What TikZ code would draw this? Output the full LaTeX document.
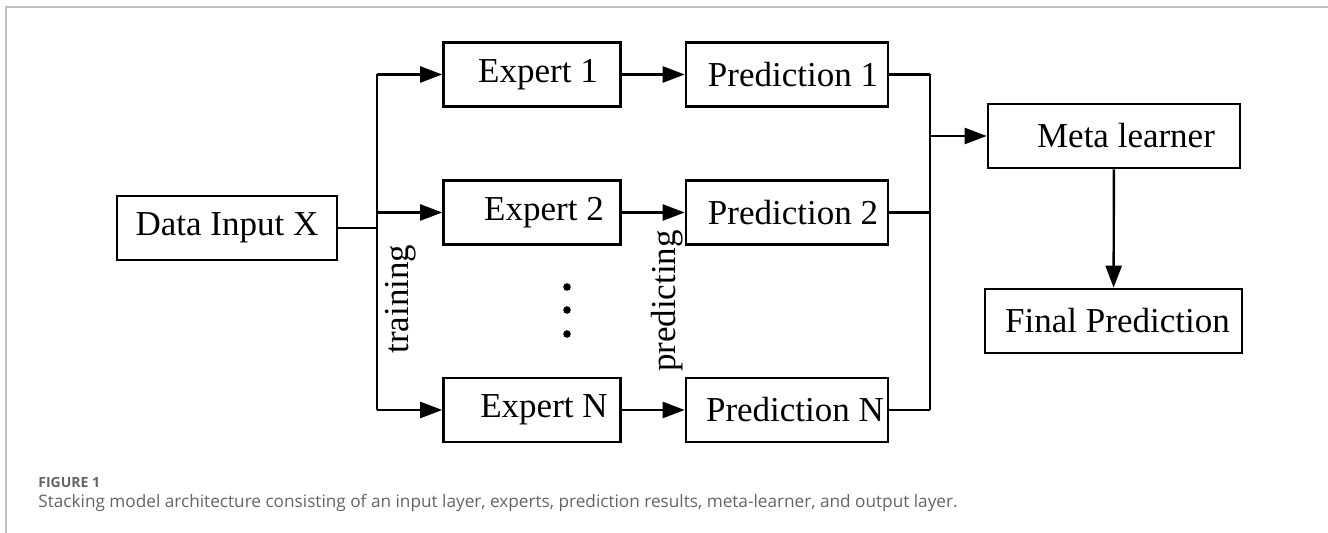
\documentclass[tikz,border=0pt]{standalone}
\usepackage{fontspec}
\setmainfont{Liberation Serif}
\newfontfamily\capfont{Open Sans}
\usetikzlibrary{arrows.meta, positioning}
\definecolor{FrameGray}{RGB}{192,192,192}
\definecolor{CapGray}{RGB}{100,100,100}

\begin{document}
\begin{tikzpicture}[x = 0.5pt, y = -0.5pt, font = \fontsize{17.5}{20}\selectfont]%
    %
    \tikzstyle{line} = [draw = black, line width = 1.2pt]%
    \tikzstyle{arrow} = [line, -{Triangle[length = 11pt, width = 8pt]}]%
    \tikzstyle{box} = [rectangle, draw = black, line width = 1.3pt, minimum height = 32pt, inner sep = 0pt]%
    \tikzstyle{expert} = [box, minimum width = 88.5pt]%
    \tikzstyle{prediction} = [box, minimum width = 101pt]%
    \tikzstyle{frame} = [draw = FrameGray, line width = 0.8pt]%
    %
    \useasboundingbox (0,0) rectangle (1328,533);%
    \draw [frame] (6,533) -- (6,7) -- (1328,7);%
    %
    \node [box, minimum width = 110pt] (data) at (227,228) {Data Input X};%
    \node [expert] (exp1) at (532,74.5) {\hspace{6pt}Expert 1};%
    \node [expert] (exp2) at (532,212.5) {\hspace{12pt}Expert 2};%
    \node [expert] (expN) at (532,410) {\hspace{12pt}Expert N};%
    \node [prediction] (pred1) at (787,74.5) {\hspace{6pt}Prediction 1};%
    \node [prediction] (pred2) at (787,212.5) {\hspace{6pt}Prediction 2};%
    \node [prediction] (predN) at (787,410) {\hspace{8pt}Prediction N};%
    \node [box, minimum width = 126pt] (meta) at (1114,136) {\hspace{12pt}Meta learner};%
    \node [box, minimum width = 128.5pt] (final) at (1113.5,321) {\hspace{4pt}Final Prediction};%
    %
    \node [rotate = 90] (training) at (401,299) {training};%
    \node [rotate = 90] (predicting) at (667,301) {predicting};%
    \foreach \y in {287,310,334} \fill (567,\y) circle [radius = 1.9pt];%
    %
    \coordinate (split) at (377,228);%
    \coordinate (merge) at (930,136);%
    \path [line] (data) -- (split);%
    \path [line] (split |- exp1) -- (split |- expN);%
    \foreach \e in {exp1, exp2, expN} \path [arrow] (split |- \e) -- (\e);%
    \path [arrow] (exp1) -- (pred1);%
    \path [arrow] (exp2) -- (pred2);%
    \path [arrow] (expN) -- (predN);%
    \foreach \p in {pred1, pred2, predN} \path [line] (\p) -- (merge |- \p);%
    \path [line] (merge |- pred1) -- (merge |- predN);%
    \path [arrow] (merge) -- (meta);%
    \path [arrow] (meta) -- (final);%
    %
    \node [anchor = base west, inner sep = 0pt, text = CapGray, font = \capfont\fontsize{7}{8}\selectfont\bfseries] (figlabel) at (38,488) {FIGURE 1};%
    \node [anchor = base west, inner sep = 0pt, text = CapGray, font = \capfont\fontsize{8.6}{10}\selectfont] (caption) at (38,508) {Stacking model architecture consisting of an input layer, experts, prediction results, meta-learner, and output layer.};%
    %
\end{tikzpicture}
\end{document}
